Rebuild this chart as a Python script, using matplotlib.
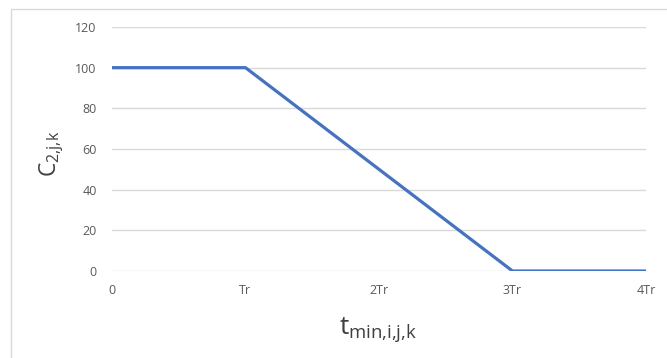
import matplotlib.pyplot as plt
from matplotlib.patches import Rectangle

# データ
t_pos = [0, 1, 3, 4]
c_vals = [100, 100, 0, 0]
x_ticks = [0, 1, 2, 3, 4]
x_labels = ['0', 'Tr', '2Tr', '3Tr', '4Tr']
y_ticks = [0, 20, 40, 60, 80, 100, 120]

plt.rcParams['font.family'] = ['Open Sans', 'DejaVu Sans']

fig = plt.figure(figsize=(6.67, 3.58), dpi=100)
ax = fig.add_axes([112 / 667, 1 - 271 / 358, (646 - 112) / 667, (271 - 27) / 358])

# 枠線
fig.patches.append(Rectangle((11 / 667, -0.1), 1.2, 1 - 8.7 / 358 + 0.1,
                             transform=fig.transFigure, fill=False,
                             edgecolor='#D9D9D9', linewidth=1.0))

ax.plot(t_pos, c_vals, color='#4472C4', linewidth=2.3, solid_capstyle='butt', zorder=3)

ax.set_xlim(0, 4)
ax.set_ylim(0, 120)
ax.set_xticks(x_ticks)
ax.set_xticklabels(x_labels)
ax.set_yticks(y_ticks)
ax.grid(axis='y', color='#D9D9D9', linewidth=1.0)
ax.set_axisbelow(True)
for s in ax.spines.values():
    s.set_visible(False)
ax.tick_params(axis='both', length=0, labelsize=9, labelcolor='#595959')
ax.tick_params(axis='y', pad=11)
ax.tick_params(axis='x', pad=9)

ax.set_ylabel(r'$\mathregular{C_{2{,}j{,}k}}$', fontsize=16.5, color='#404040')
ax.yaxis.set_label_coords(-0.086, 0.48)
ax.set_xlabel(r'$\mathregular{t_{min{,}i{,}j{,}k}}$', fontsize=19, color='#404040')
ax.xaxis.set_label_coords(0.498, -0.18)

fig.savefig('out.png', dpi=100)
